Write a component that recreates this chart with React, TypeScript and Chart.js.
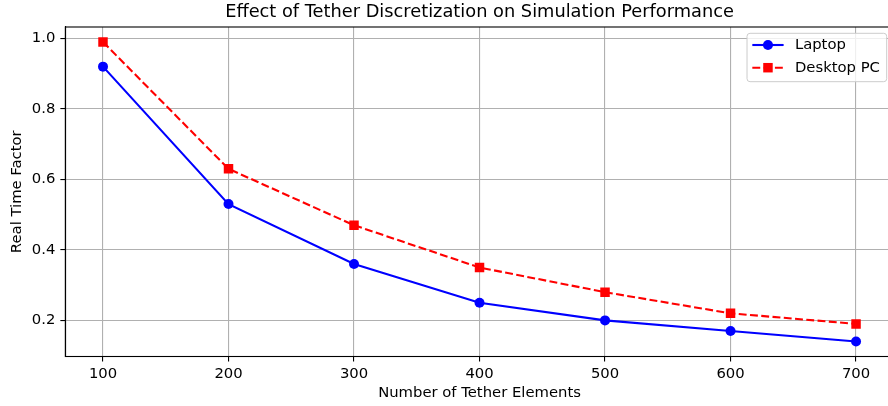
import React, { useEffect, useRef } from "react";
import { Chart, registerables } from "chart.js";

Chart.register(...registerables);

const elements = [100, 200, 300, 400, 500, 600, 700];
const laptop = [0.92, 0.53, 0.36, 0.25, 0.2, 0.17, 0.14];
const desktop = [0.99, 0.63, 0.47, 0.35, 0.28, 0.22, 0.19];
const xTicks = [100, 200, 300, 400, 500, 600, 700];
const yTicks = [0.2, 0.4, 0.6, 0.8, 1.0];
const titleText = "Effect of Tether Discretization on Simulation Performance";

const FONT = '"DejaVu Sans", sans-serif';
const TICK = 14.8;
const W = 959;
const H = 406;

const framePlugin = {
  id: "mplFrame",
  beforeDatasetsDraw(chart: any) {
    const { ctx, chartArea } = chart;
    ctx.save();
    ctx.strokeStyle = "#000";
    ctx.lineWidth = 1.1;
    ctx.strokeRect(chartArea.left, chartArea.top, chartArea.right - chartArea.left, chartArea.bottom - chartArea.top);
    ctx.restore();
  },
};

const titlePlugin = {
  id: "mplTitle",
  afterDraw(chart: any) {
    const { ctx, chartArea } = chart;
    ctx.save();
    ctx.font = `17.8px ${FONT}`;
    ctx.fillStyle = "#000";
    ctx.textAlign = "center";
    ctx.textBaseline = "middle";
    ctx.fillText(titleText, (chartArea.left + chartArea.right) / 2, chartArea.top - 14.5);
    ctx.restore();
  },
};

const legendPlugin = {
  id: "mplLegend",
  afterDraw(chart: any) {
    const { ctx, chartArea } = chart;
    const ds = chart.data.datasets;
    ctx.save();
    ctx.font = `${TICK}px ${FONT}`;
    const textW = Math.max(...ds.map((d: any) => ctx.measureText(d.label).width));
    const padL = 5.3, handle = 31.3, gap = 11.3, padR = 6.8;
    const w = padL + handle + gap + textW + padR;
    const h = 48.4;
    const right = chartArea.right - 7;
    const top = chartArea.top + 6.3;
    const left = right - w;
    ctx.beginPath();
    ctx.roundRect(left, top, w, h, 3);
    ctx.fillStyle = "rgba(255,255,255,0.8)";
    ctx.fill();
    ctx.strokeStyle = "#cccccc";
    ctx.lineWidth = 1;
    ctx.stroke();
    const rows = [11.7, 34.4];
    ds.forEach((d: any, i: number) => {
      const y = top + rows[i];
      const x0 = left + padL;
      const x1 = x0 + handle;
      const cx = (x0 + x1) / 2;
      ctx.beginPath();
      ctx.setLineDash(d.borderDash || []);
      ctx.strokeStyle = d.borderColor;
      ctx.lineWidth = d.borderWidth;
      ctx.moveTo(x0, y);
      ctx.lineTo(x1, y);
      ctx.stroke();
      ctx.setLineDash([]);
      ctx.fillStyle = d.pointBackgroundColor;
      if (d.pointStyle === "rect") {
        const s = Math.SQRT1_2 * d.pointRadius;
        ctx.fillRect(cx - s, y - s, 2 * s, 2 * s);
      } else {
        ctx.beginPath();
        ctx.arc(cx, y, d.pointRadius, 0, Math.PI * 2);
        ctx.fill();
      }
      ctx.fillStyle = "#000";
      ctx.textBaseline = "middle";
      ctx.textAlign = "left";
      ctx.fillText(d.label, x1 + gap, y + 0.5);
    });
    ctx.restore();
  },
};

export default function App() {
  const ref = useRef<HTMLCanvasElement | null>(null);
  useEffect(() => {
    if (!ref.current) return;
    Chart.defaults.font.family = FONT;
    Chart.defaults.color = "#000";
    const chart = new Chart(ref.current, {
      type: "line",
      data: {
        datasets: [
          {
            label: "Laptop",
            data: elements.map((x, i) => ({ x, y: laptop[i] })),
            borderColor: "#0000ff",
            backgroundColor: "#0000ff",
            pointBackgroundColor: "#0000ff",
            pointBorderWidth: 0,
            borderWidth: 2.1,
            pointStyle: "circle",
            pointRadius: 5,
            fill: false,
            tension: 0,
          } as any,
          {
            label: "Desktop PC",
            data: elements.map((x, i) => ({ x, y: desktop[i] })),
            borderColor: "#ff0000",
            backgroundColor: "#ff0000",
            pointBackgroundColor: "#ff0000",
            pointBorderWidth: 0,
            borderWidth: 2.1,
            borderDash: [7.9, 3.4],
            pointStyle: "rect",
            pointRadius: 6.7,
            fill: false,
            tension: 0,
          } as any,
        ],
      },
      options: {
        animation: false,
        responsive: false,
        devicePixelRatio: 1,
        layout: { padding: { left: 0, top: 27, bottom: 0, right: W - 893.7 } },
        plugins: {
          legend: { display: false },
          tooltip: { enabled: false },
          title: { display: false },
        },
        scales: {
          x: {
            type: "linear",
            min: 70,
            max: 730,
            afterFit: (s: any) => { s.height = 49.5; },
            afterBuildTicks: (s: any) => { s.ticks = xTicks.map((v) => ({ value: v })); },
            grid: { color: "#b0b0b0", lineWidth: 1.1, tickColor: "#000", tickLength: 5, drawTicks: true },
            border: { display: true, color: "#000", width: 1.1 },
            ticks: { color: "#000", font: { family: FONT, size: TICK }, padding: 3.5, maxRotation: 0, callback: (v: any) => String(v) },
            title: {
              display: true,
              text: "Number of Tether Elements",
              color: "#000",
              font: { family: FONT, size: TICK },
              padding: { top: 0, bottom: 3.6 },
            },
          },
          y: {
            type: "linear",
            min: 0.0975,
            max: 1.0325,
            afterFit: (s: any) => { s.width = 65.35; },
            afterBuildTicks: (s: any) => { s.ticks = yTicks.map((v) => ({ value: v })); },
            grid: { color: "#b0b0b0", lineWidth: 1.1, tickColor: "#000", tickLength: 5, drawTicks: true },
            border: { display: true, color: "#000", width: 1.1 },
            ticks: { color: "#000", font: { family: FONT, size: TICK }, padding: 5, callback: (v: any) => Number(v).toFixed(1) },
            title: {
              display: true,
              text: "Real Time Factor",
              color: "#000",
              font: { family: FONT, size: TICK },
              padding: { top: 8.1, bottom: 0 },
            },
          },
        },
      },
      plugins: [framePlugin, titlePlugin, legendPlugin],
    });
    return () => chart.destroy();
  }, []);

  return (
    <div style={{ position: "fixed", left: 0, top: 0, width: 888, height: 406, overflow: "hidden", background: "#fff" }}>
      <canvas ref={ref} width={W} height={H} style={{ width: W, height: H, display: "block" }} />
    </div>
  );
}
